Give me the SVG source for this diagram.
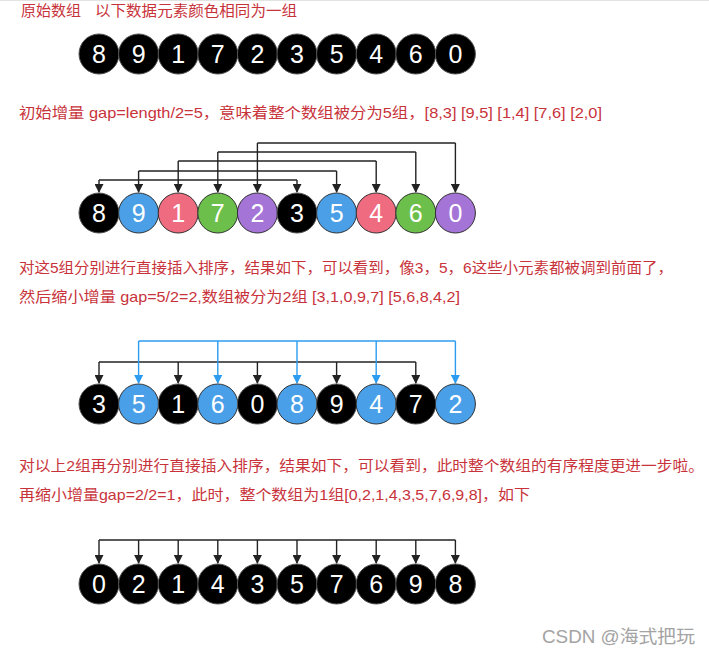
<svg xmlns="http://www.w3.org/2000/svg" width="709" height="653" viewBox="0 0 709 653">
<style>
.cap{font-family:"Liberation Sans","Noto Sans CJK SC",sans-serif;font-size:14.5px;fill:#c8333b;}
.num{font-family:"Liberation Sans",Arial,sans-serif;font-size:25px;fill:#ffffff;text-anchor:middle;}
.k{fill:#000000;stroke:#555555;stroke-width:1;}
.b{fill:#4a9fe6;stroke:#333333;stroke-width:1;}
.r{fill:#ef6b80;stroke:#333333;stroke-width:1;}
.g{fill:#6cbf4a;stroke:#333333;stroke-width:1;}
.p{fill:#a474d6;stroke:#333333;stroke-width:1;}
.c3{fill:#4aa0e8;stroke:#333333;stroke-width:1;}
.lk{fill:none;stroke:#222222;stroke-width:1.4;}
.lb{fill:none;stroke:#2c9cf0;stroke-width:1.4;}
.wm{font-family:"Liberation Sans","Noto Sans CJK SC",sans-serif;font-size:18px;fill:#a3a3a3;}
</style>
<defs>
<marker id="ak" markerWidth="9" markerHeight="9" refX="8" refY="4.5" orient="auto" markerUnits="userSpaceOnUse"><path d="M0,0 L9,4.5 L0,9 z" fill="#222222"/></marker>
<marker id="ab" markerWidth="9" markerHeight="9" refX="8" refY="4.5" orient="auto" markerUnits="userSpaceOnUse"><path d="M0,0 L9,4.5 L0,9 z" fill="#2c9cf0"/></marker>
</defs>
<rect x="0" y="0" width="709" height="653" fill="#ffffff"/>
<line x1="0" y1="0.5" x2="709" y2="0.5" stroke="#e3e3e3" stroke-width="1"/>

<g id="texts">
<text class="cap" x="21" y="16" textLength="60" lengthAdjust="spacingAndGlyphs">原始数组</text>
<text class="cap" x="95" y="16" textLength="202" lengthAdjust="spacingAndGlyphs">以下数据元素颜色相同为一组</text>
<text class="cap" x="19" y="118" textLength="583" lengthAdjust="spacingAndGlyphs">初始增量 gap=length/2=5，意味着整个数组被分为5组，[8,3] [9,5] [1,4] [7,6] [2,0]</text>
<text class="cap" x="19" y="273" textLength="654" lengthAdjust="spacingAndGlyphs">对这5组分别进行直接插入排序，结果如下，可以看到，像3，5，6这些小元素都被调到前面了，</text>
<text class="cap" x="19" y="302" textLength="441" lengthAdjust="spacingAndGlyphs">然后缩小增量 gap=5/2=2,数组被分为2组 [3,1,0,9,7] [5,6,8,4,2]</text>
<text class="cap" x="19" y="471" textLength="685" lengthAdjust="spacingAndGlyphs">对以上2组再分别进行直接插入排序，结果如下，可以看到，此时整个数组的有序程度更进一步啦。</text>
<text class="cap" x="19" y="500" textLength="511" lengthAdjust="spacingAndGlyphs">再缩小增量gap=2/2=1，此时，整个数组为1组[0,2,1,4,3,5,7,6,9,8]，如下</text>
<text class="wm" x="542" y="643" textLength="153" lengthAdjust="spacingAndGlyphs">CSDN @海式把玩</text>
</g>

<g id="connectors">
<path class="lk" d="M99,180 H297"/>
<path class="lk" d="M99,180 V192" marker-end="url(#ak)"/>
<path class="lk" d="M297,180 V192" marker-end="url(#ak)"/>
<path class="lk" d="M138.6,171 H336.6"/>
<path class="lk" d="M138.6,171 V192" marker-end="url(#ak)"/>
<path class="lk" d="M336.6,171 V192" marker-end="url(#ak)"/>
<path class="lk" d="M178.2,161 H376.2"/>
<path class="lk" d="M178.2,161 V192" marker-end="url(#ak)"/>
<path class="lk" d="M376.2,161 V192" marker-end="url(#ak)"/>
<path class="lk" d="M217.8,152 H415.8"/>
<path class="lk" d="M217.8,152 V192" marker-end="url(#ak)"/>
<path class="lk" d="M415.8,152 V192" marker-end="url(#ak)"/>
<path class="lk" d="M257.4,143 H455.4"/>
<path class="lk" d="M257.4,143 V192" marker-end="url(#ak)"/>
<path class="lk" d="M455.4,143 V192" marker-end="url(#ak)"/>
<path class="lk" d="M99,362 H415.8"/>
<path class="lk" d="M99,362 V383" marker-end="url(#ak)"/>
<path class="lk" d="M178.2,362 V383" marker-end="url(#ak)"/>
<path class="lk" d="M257.4,362 V383" marker-end="url(#ak)"/>
<path class="lk" d="M336.6,362 V383" marker-end="url(#ak)"/>
<path class="lk" d="M415.8,362 V383" marker-end="url(#ak)"/>
<path class="lb" d="M138.6,341 H455.4"/>
<path class="lb" d="M138.6,341 V383" marker-end="url(#ab)"/>
<path class="lb" d="M217.8,341 V383" marker-end="url(#ab)"/>
<path class="lb" d="M297,341 V383" marker-end="url(#ab)"/>
<path class="lb" d="M376.2,341 V383" marker-end="url(#ab)"/>
<path class="lb" d="M455.4,341 V383" marker-end="url(#ab)"/>
<path class="lk" d="M99,540 H455.4"/>
<path class="lk" d="M99,540 V563" marker-end="url(#ak)"/>
<path class="lk" d="M138.6,540 V563" marker-end="url(#ak)"/>
<path class="lk" d="M178.2,540 V563" marker-end="url(#ak)"/>
<path class="lk" d="M217.8,540 V563" marker-end="url(#ak)"/>
<path class="lk" d="M257.4,540 V563" marker-end="url(#ak)"/>
<path class="lk" d="M297,540 V563" marker-end="url(#ak)"/>
<path class="lk" d="M336.6,540 V563" marker-end="url(#ak)"/>
<path class="lk" d="M376.2,540 V563" marker-end="url(#ak)"/>
<path class="lk" d="M415.8,540 V563" marker-end="url(#ak)"/>
<path class="lk" d="M455.4,540 V563" marker-end="url(#ak)"/>
</g>

<g id="r1n0"><circle class="k" cx="99" cy="54" r="20"/><text class="num" x="99" y="63">8</text></g>
<g id="r1n1"><circle class="k" cx="138.6" cy="54" r="20"/><text class="num" x="138.6" y="63">9</text></g>
<g id="r1n2"><circle class="k" cx="178.2" cy="54" r="20"/><text class="num" x="178.2" y="63">1</text></g>
<g id="r1n3"><circle class="k" cx="217.8" cy="54" r="20"/><text class="num" x="217.8" y="63">7</text></g>
<g id="r1n4"><circle class="k" cx="257.4" cy="54" r="20"/><text class="num" x="257.4" y="63">2</text></g>
<g id="r1n5"><circle class="k" cx="297" cy="54" r="20"/><text class="num" x="297" y="63">3</text></g>
<g id="r1n6"><circle class="k" cx="336.6" cy="54" r="20"/><text class="num" x="336.6" y="63">5</text></g>
<g id="r1n7"><circle class="k" cx="376.2" cy="54" r="20"/><text class="num" x="376.2" y="63">4</text></g>
<g id="r1n8"><circle class="k" cx="415.8" cy="54" r="20"/><text class="num" x="415.8" y="63">6</text></g>
<g id="r1n9"><circle class="k" cx="455.4" cy="54" r="20"/><text class="num" x="455.4" y="63">0</text></g>

<g id="r2n0"><circle class="k" cx="99" cy="213" r="20"/><text class="num" x="99" y="222">8</text></g>
<g id="r2n1"><circle class="b" cx="138.6" cy="213" r="20"/><text class="num" x="138.6" y="222">9</text></g>
<g id="r2n2"><circle class="r" cx="178.2" cy="213" r="20"/><text class="num" x="178.2" y="222">1</text></g>
<g id="r2n3"><circle class="g" cx="217.8" cy="213" r="20"/><text class="num" x="217.8" y="222">7</text></g>
<g id="r2n4"><circle class="p" cx="257.4" cy="213" r="20"/><text class="num" x="257.4" y="222">2</text></g>
<g id="r2n5"><circle class="k" cx="297" cy="213" r="20"/><text class="num" x="297" y="222">3</text></g>
<g id="r2n6"><circle class="b" cx="336.6" cy="213" r="20"/><text class="num" x="336.6" y="222">5</text></g>
<g id="r2n7"><circle class="r" cx="376.2" cy="213" r="20"/><text class="num" x="376.2" y="222">4</text></g>
<g id="r2n8"><circle class="g" cx="415.8" cy="213" r="20"/><text class="num" x="415.8" y="222">6</text></g>
<g id="r2n9"><circle class="p" cx="455.4" cy="213" r="20"/><text class="num" x="455.4" y="222">0</text></g>

<g id="r3n0"><circle class="k" cx="99" cy="404" r="20"/><text class="num" x="99" y="413">3</text></g>
<g id="r3n1"><circle class="c3" cx="138.6" cy="404" r="20"/><text class="num" x="138.6" y="413">5</text></g>
<g id="r3n2"><circle class="k" cx="178.2" cy="404" r="20"/><text class="num" x="178.2" y="413">1</text></g>
<g id="r3n3"><circle class="c3" cx="217.8" cy="404" r="20"/><text class="num" x="217.8" y="413">6</text></g>
<g id="r3n4"><circle class="k" cx="257.4" cy="404" r="20"/><text class="num" x="257.4" y="413">0</text></g>
<g id="r3n5"><circle class="c3" cx="297" cy="404" r="20"/><text class="num" x="297" y="413">8</text></g>
<g id="r3n6"><circle class="k" cx="336.6" cy="404" r="20"/><text class="num" x="336.6" y="413">9</text></g>
<g id="r3n7"><circle class="c3" cx="376.2" cy="404" r="20"/><text class="num" x="376.2" y="413">4</text></g>
<g id="r3n8"><circle class="k" cx="415.8" cy="404" r="20"/><text class="num" x="415.8" y="413">7</text></g>
<g id="r3n9"><circle class="c3" cx="455.4" cy="404" r="20"/><text class="num" x="455.4" y="413">2</text></g>

<g id="r4n0"><circle class="k" cx="99" cy="584" r="20"/><text class="num" x="99" y="593">0</text></g>
<g id="r4n1"><circle class="k" cx="138.6" cy="584" r="20"/><text class="num" x="138.6" y="593">2</text></g>
<g id="r4n2"><circle class="k" cx="178.2" cy="584" r="20"/><text class="num" x="178.2" y="593">1</text></g>
<g id="r4n3"><circle class="k" cx="217.8" cy="584" r="20"/><text class="num" x="217.8" y="593">4</text></g>
<g id="r4n4"><circle class="k" cx="257.4" cy="584" r="20"/><text class="num" x="257.4" y="593">3</text></g>
<g id="r4n5"><circle class="k" cx="297" cy="584" r="20"/><text class="num" x="297" y="593">5</text></g>
<g id="r4n6"><circle class="k" cx="336.6" cy="584" r="20"/><text class="num" x="336.6" y="593">7</text></g>
<g id="r4n7"><circle class="k" cx="376.2" cy="584" r="20"/><text class="num" x="376.2" y="593">6</text></g>
<g id="r4n8"><circle class="k" cx="415.8" cy="584" r="20"/><text class="num" x="415.8" y="593">9</text></g>
<g id="r4n9"><circle class="k" cx="455.4" cy="584" r="20"/><text class="num" x="455.4" y="593">8</text></g>
</svg>
